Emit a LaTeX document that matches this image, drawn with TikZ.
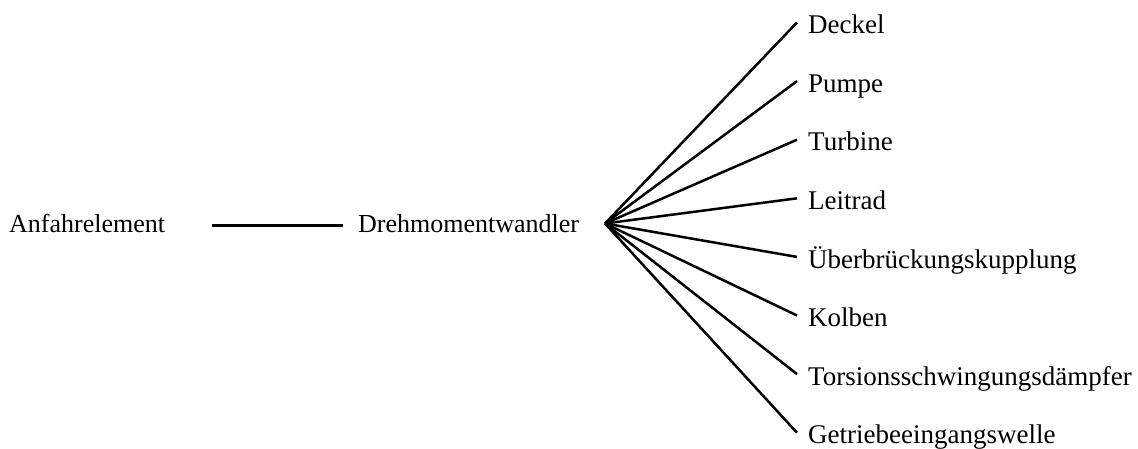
\documentclass[tikz,border=0pt]{standalone}
\usepackage{fontspec}
\setmainfont{Liberation Serif}
\begin{document}
\begin{tikzpicture}[x=1pt,y=-1pt,
  lbl/.style={inner ysep=0pt, text height=18pt, text depth=4.4pt,
    font=\fontsize{26}{31}\selectfont},
  part/.style={anchor=west, inner ysep=0pt, inner xsep=11pt,
    text height=26.5pt, text depth=4pt, font=\fontsize{27}{32}\selectfont},
  link/.style={line width=2.8pt},
  branch/.style={line width=2.5pt}]
  \useasboundingbox (0,0) rectangle (1138,448);
  % main chain
  \node[lbl, anchor=west, inner xsep=0pt] (anf) at (9,225.7) {Anfahrelement};
  \node[lbl, anchor=west, inner xsep=0pt] (dmw) at (358,225.7) {Drehmomentwandler};
  \coordinate (hub) at (605,223.5);
  \draw[link] ([xshift=47pt]anf.east) -- ([xshift=-15pt]dmw.west);
  % components of the torque converter
  \foreach \name/\txt [count=\i from 0] in {
      p1/Deckel, p2/Pumpe, p3/Turbine, p4/Leitrad,
      p5/Überbrückungskupplung, p6/Kolben,
      p7/Torsionsschwingungsdämpfer, p8/Getriebeeingangswelle} {
    \node[part] (\name) at (797,22.5+58.6*\i) {\txt};
    \draw[branch] (hub) -- (\name.west);
  }
\end{tikzpicture}
\end{document}
